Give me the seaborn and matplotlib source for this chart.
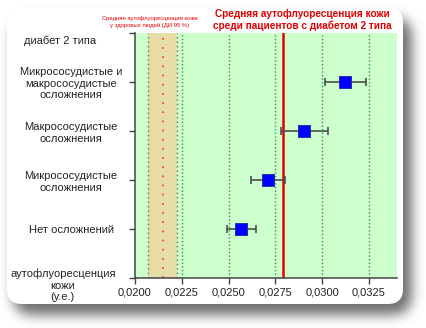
import numpy as np
import pandas as pd
import matplotlib
matplotlib.use("Agg")
import matplotlib.pyplot as plt
import matplotlib.transforms as mtransforms
from matplotlib.patches import FancyBboxPatch
import seaborn as sns

# ---- data ----
groups = [
    "Нет осложнений",
    "Микрососудистые\nосложнения",
    "Макрососудистые\nосложнения",
    "Микрососудистые и\nмакрососудистые\nосложнения",
]
means = [0.02568, 0.02709, 0.02903, 0.03120]
ci_low = [0.02493, 0.02618, 0.02780, 0.03015]
ci_high = [0.02646, 0.02801, 0.03033, 0.03232]

diabetes_mean = 0.0279
healthy_low, healthy_mean, healthy_high = 0.02068, 0.02148, 0.02223

x_ticks = [0.0200, 0.0225, 0.0250, 0.0275, 0.0300, 0.0325]
x_tick_labels = ["0,0200", "0,0225", "0,0250", "0,0275", "0,0300", "0,0325"]
grid_lines = [0.0225, 0.0250, 0.0275, 0.0300, 0.0325]

bottom_label = "аутофлуоресценция\nкожи\n(у.е.)"
top_label = "диабет 2 типа"
title_main = "Средняя аутофлуоресценция кожи\nсреди пациентов с диабетом 2 типа"
title_healthy = "Средняя аутофлуоресценция кожи\nу здоровых людей (ДИ 95 %)"

sns.set_theme(style="white")
plt.rcParams["font.family"] = ["Liberation Sans", "DejaVu Sans"]

W, H = 426, 328
fig = plt.figure(figsize=(W / 100, H / 100), dpi=100)
fig.patch.set_facecolor("white")

# ---- card with soft drop shadow ----
bg = fig.add_axes([0, 0, 1, 1], zorder=-10)
bg.set_xlim(0, W)
bg.set_ylim(H, 0)
bg.axis("off")

yy, xx = np.mgrid[0:H, 0:W]
x0, y0, x1, y1, r = 13, 17, 411, 314, 16
cx = np.clip(xx, x0 + r, x1 - r)
cy = np.clip(yy, y0 + r, y1 - r)
mask = (((xx - cx) ** 2 + (yy - cy) ** 2) <= r * r).astype(float)
k = np.exp(-0.5 * (np.arange(-18, 19) / 6.0) ** 2)
k /= k.sum()
blur = np.apply_along_axis(lambda v: np.convolve(v, k, mode="same"), 0, mask)
blur = np.apply_along_axis(lambda v: np.convolve(v, k, mode="same"), 1, blur)
shadow = np.zeros((H, W, 4))
shadow[..., :3] = 0.25
shadow[..., 3] = blur * 0.75
bg.imshow(shadow, extent=[0, W, H, 0], interpolation="bilinear")

card = FancyBboxPatch((7, 7), 396, 297, boxstyle="round,pad=0,rounding_size=15",
                      facecolor="white", edgecolor="none")
bg.add_patch(card)

# ---- main plot ----
ax = fig.add_axes([135 / W, 1 - 278 / H, (397 - 135) / W, (278 - 33) / H])
ax.set_facecolor("#ccffcc")
ax.set_xlim(0.0200, 0.0340)
ax.set_ylim(0, 5)

# healthy reference band (95% CI)
ax.axvspan(healthy_low, healthy_high, color="#e6dca6", zorder=0, lw=0)
for xv in (healthy_low, healthy_high):
    ax.axvline(xv, color="#6b6b6b", lw=1.0, ls=(0, (1, 2.2)), zorder=1)
ax.axvline(healthy_mean, color="#ff3030", lw=1.2, ls=(0, (1, 4.5)), zorder=1)

for xv in grid_lines:
    ax.axvline(xv, color="#2f9a4a", lw=1.0, ls=(0, (1, 1.6)), zorder=1)

ax.axvline(diabetes_mean, color="#e60000", lw=1.8, zorder=2)

positions = np.arange(1, len(groups) + 1)
df = pd.DataFrame({"group": groups, "pos": positions, "mean": means,
                   "lo": ci_low, "hi": ci_high})

ax.errorbar(df["mean"], df["pos"],
            xerr=[df["mean"] - df["lo"], df["hi"] - df["mean"]],
            fmt="none", ecolor="#4d4d4d", elinewidth=1.2, capsize=3, capthick=1.2,
            zorder=3)
sns.scatterplot(data=df, x="mean", y="pos", marker="s", s=80, color="#0000ff",
                edgecolor="#2020a0", linewidth=0.6, zorder=4, ax=ax, legend=False)

# axes styling
for side in ("top", "right"):
    ax.spines[side].set_visible(False)
for side in ("left", "bottom"):
    ax.spines[side].set_color("#444444")
    ax.spines[side].set_linewidth(1.1)

ax.set_xticks(x_ticks)
ax.set_xticklabels(x_tick_labels)
ax.set_yticks([0, *positions, 5])
ax.set_yticklabels([bottom_label, *groups, top_label])
ax.tick_params(axis="x", direction="out", length=4, width=1, color="#444444",
               labelsize=8, pad=3, labelcolor="#222222", bottom=True)
ax.tick_params(axis="y", direction="out", length=4, width=1, color="#444444",
               labelsize=8, pad=42, labelcolor="#222222", left=True)
for lab in ax.get_yticklabels():
    lab.set_horizontalalignment("center")
    lab.set_multialignment("center")
ylabs = ax.get_yticklabels()
ylabs[0].set_transform(ylabs[0].get_transform() +
                       mtransforms.ScaledTranslation(-6 / 72, -4 / 72, fig.dpi_scale_trans))
ylabs[-1].set_transform(ylabs[-1].get_transform() +
                        mtransforms.ScaledTranslation(-8 / 72, -5 / 72, fig.dpi_scale_trans))
ax.set_xlabel("")
ax.set_ylabel("")

# titles
fig.text(302 / W, 1 - 20 / H, title_main, color="#e00000", fontsize=7.2,
         fontweight="bold", ha="center", va="center", linespacing=1.1)
fig.text(150 / W, 1 - 22 / H, title_healthy, color="#e00000", fontsize=4.2,
         ha="center", va="center", linespacing=1.2)

fig.savefig("out.png", dpi=100)
